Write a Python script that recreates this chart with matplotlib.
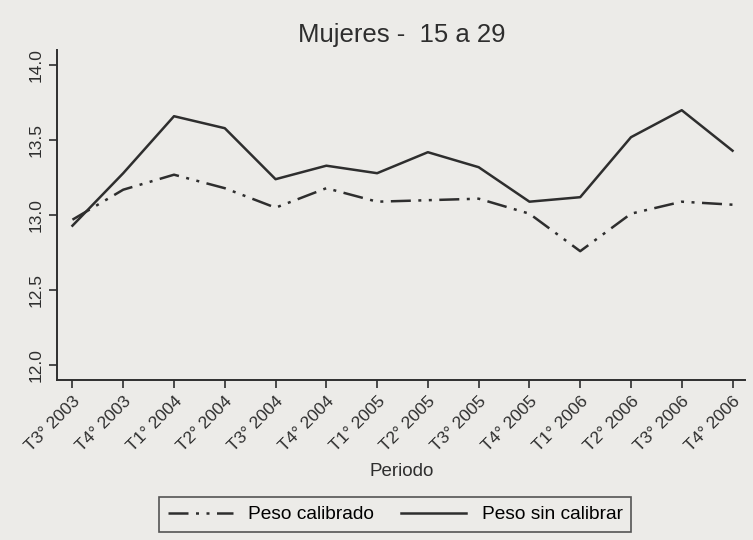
import matplotlib
matplotlib.use("Agg")
import matplotlib.pyplot as plt

plt.rcParams['font.family'] = ['Liberation Sans', 'DejaVu Sans']

periodos = ["T3° 2003", "T4° 2003", "T1° 2004", "T2° 2004", "T3° 2004", "T4° 2004",
            "T1° 2005", "T2° 2005", "T3° 2005", "T4° 2005", "T1° 2006", "T2° 2006",
            "T3° 2006", "T4° 2006"]
calibrado = [12.97, 13.17, 13.27, 13.18, 13.05, 13.18, 13.09,
             13.10, 13.11, 13.01, 12.76, 13.01, 13.09, 13.07]
sin_calibrar = [12.93, 13.28, 13.66, 13.58, 13.24, 13.33, 13.28,
                13.42, 13.32, 13.09, 13.12, 13.52, 13.70, 13.43]
yticks = [12.0, 12.5, 13.0, 13.5, 14.0]

bg = "#ecebe8"
ink = "#2e2e2e"

fig = plt.figure(figsize=(7.53, 5.40), dpi=100, facecolor=bg)
ax = fig.add_axes([0.076, 0.296, 0.913, 0.611], facecolor=bg)

x = range(len(periodos))
ax.plot(x, calibrado, color=ink, linewidth=1.8, dashes=(8, 3, 1.2, 3, 1.2, 3),
        label="Peso calibrado")
ax.plot(x, sin_calibrar, color=ink, linewidth=1.8, label="Peso sin calibrar")

ax.set_xlim(-0.3, len(periodos) - 1 + 0.24)
ax.set_ylim(11.9, 14.1)
ax.set_yticks(yticks)
ax.set_yticklabels([f"{v:.1f}" for v in yticks], rotation=90, va="center", fontsize=12.5)
ax.set_xticks(list(x))
ax.set_xticklabels(periodos, rotation=45, ha="right", rotation_mode="anchor", fontsize=12.5)
ax.tick_params(colors=ink, length=6, width=1.2)

for side in ["top", "right"]:
    ax.spines[side].set_visible(False)
for side in ["left", "bottom"]:
    ax.spines[side].set_color(ink)
    ax.spines[side].set_linewidth(1.4)

fig.text(0.533, 0.922, "Mujeres -  15 a 29", ha="center", fontsize=18.5, color=ink)
fig.text(0.533, 0.118, "Periodo", ha="center", fontsize=13.5, color=ink)

leg = fig.legend(loc="center", bbox_to_anchor=(0.525, 0.047), ncol=2, fontsize=13.8,
                 frameon=True, fancybox=False, edgecolor=ink, facecolor=bg,
                 handlelength=3.4, columnspacing=1.4, borderpad=0.45)
leg.get_frame().set_linewidth(1.2)

fig.savefig("out.png", dpi=100, facecolor=bg)
